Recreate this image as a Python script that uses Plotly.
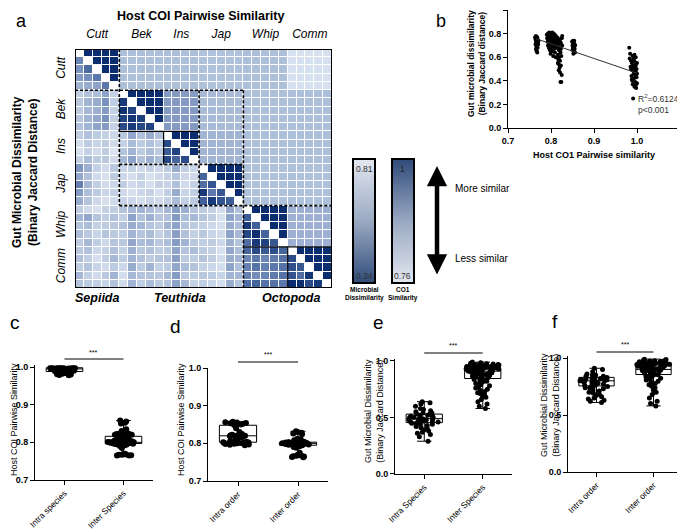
import plotly.graph_objects as go

# the page body keeps an 8px margin, so the figure is 8px smaller than the window
PAD = 8
W, H = 685 - PAD, 529 - PAD
FONT = "Liberation Sans, Arial, sans-serif"

# ---------------- panel a : pairwise heatmap ----------------
species = ["Cutt", "Bek", "Ins", "Jap", "Whip", "Comm"]
species_n = [5, 5, 4, 5, 5, 5]
orders = ["Sepiida", "Teuthida", "Octopoda"]

# host COI similarity between species (upper triangle)
coi_block = [
    [0.995, 0.800, 0.800, 0.797, 0.800, 0.766],
    [0.800, 0.995, 0.855, 0.806, 0.799, 0.800],
    [0.800, 0.855, 0.995, 0.815, 0.800, 0.800],
    [0.797, 0.806, 0.815, 0.995, 0.798, 0.798],
    [0.800, 0.799, 0.800, 0.798, 0.995, 0.822],
    [0.766, 0.800, 0.800, 0.798, 0.822, 0.995],
]

# gut microbial binary jaccard distance x100 (lower triangle, row by row)
jaccard_rows = [
    [],
    [55],
    [58, 49],
    [60, 57, 52],
    [66, 64, 62, 52],
    [73, 69, 68, 62, 74],
    [71, 66, 64, 58, 73, 38],
    [72, 67, 65, 60, 74, 36, 40],
    [70, 66, 63, 58, 73, 40, 37, 39],
    [69, 66, 62, 60, 74, 42, 38, 41, 40],
    [73, 69, 72, 74, 76, 71, 63, 69, 64, 69],
    [78, 72, 75, 72, 77, 74, 68, 72, 69, 73, 42],
    [79, 74, 77, 73, 80, 70, 66, 72, 68, 72, 46, 40],
    [74, 68, 72, 71, 77, 67, 62, 69, 65, 68, 41, 48, 42],
    [59, 65, 74, 77, 71, 75, 74, 77, 74, 76, 72, 64, 73, 75],
    [63, 69, 77, 79, 72, 76, 78, 74, 79, 77, 74, 70, 76, 76, 48],
    [54, 67, 73, 77, 76, 73, 77, 75, 78, 74, 75, 69, 77, 74, 50, 44],
    [60, 68, 72, 75, 74, 77, 79, 76, 74, 78, 73, 64, 75, 73, 38, 52, 45],
    [64, 70, 76, 78, 77, 75, 76, 78, 75, 77, 74, 68, 74, 72, 47, 38, 44, 46],
    [73, 77, 79, 74, 73, 70, 67, 66, 68, 71, 67, 61, 65, 70, 72, 74, 78, 63, 69],
    [66, 63, 70, 73, 69, 74, 62, 69, 65, 70, 69, 60, 68, 67, 70, 73, 79, 62, 66, 46],
    [70, 68, 74, 72, 71, 69, 64, 67, 70, 72, 66, 62, 70, 72, 74, 76, 78, 64, 68, 38, 47],
    [68, 71, 75, 70, 72, 73, 66, 70, 68, 74, 70, 61, 69, 74, 71, 75, 77, 62, 67, 41, 35, 48],
    [72, 67, 73, 76, 70, 71, 63, 68, 67, 71, 68, 60, 66, 71, 73, 72, 76, 65, 70, 50, 38, 40, 45],
    [71, 69, 76, 74, 69, 74, 65, 71, 69, 73, 71, 62, 70, 68, 72, 74, 79, 63, 68, 48, 42, 45, 43, 48],
    [69, 73, 78, 73, 67, 72, 66, 69, 72, 70, 69, 61, 72, 73, 70, 73, 77, 64, 66, 55, 52, 55, 53, 51, 42],
    [73, 70, 75, 77, 72, 76, 64, 72, 66, 74, 72, 63, 68, 70, 74, 76, 78, 62, 69, 54, 51, 54, 52, 51, 43, 45],
    [67, 74, 77, 71, 66, 78, 67, 70, 70, 71, 67, 60, 71, 72, 71, 72, 75, 66, 67, 54, 57, 55, 53, 51, 44, 50, 37],
    [70, 72, 74, 75, 70, 77, 66, 73, 68, 72, 70, 62, 67, 74, 73, 75, 78, 64, 70, 50, 48, 51, 51, 52, 35, 35, 42, 38],
]

micro_range = [0.34, 0.81]
coi_range = [0.76, 1.0]

# ---------------- panel b : scatter ----------------
cutt_pts = [(0.763, 0.77), (0.764, 0.75), (0.764, 0.71), (0.765, 0.78), (0.765, 0.73), (0.766, 0.76),
            (0.766, 0.69), (0.766, 0.66), (0.767, 0.74), (0.767, 0.72), (0.768, 0.77), (0.768, 0.70),
            (0.768, 0.64), (0.769, 0.75), (0.769, 0.68), (0.770, 0.73), (0.770, 0.71), (0.771, 0.74),
            (0.765, 0.67), (0.767, 0.65), (0.769, 0.72), (0.766, 0.76)]
mid_pts = [(0.790, 0.79), (0.791, 0.76), (0.792, 0.73), (0.793, 0.80), (0.793, 0.70), (0.794, 0.77),
           (0.795, 0.74), (0.795, 0.68), (0.796, 0.81), (0.796, 0.72), (0.797, 0.78), (0.797, 0.66),
           (0.798, 0.75), (0.798, 0.70), (0.799, 0.80), (0.799, 0.63), (0.800, 0.77), (0.800, 0.73),
           (0.800, 0.68), (0.801, 0.79), (0.801, 0.71), (0.802, 0.76), (0.802, 0.65), (0.803, 0.81),
           (0.803, 0.74), (0.804, 0.69), (0.804, 0.78), (0.805, 0.72), (0.805, 0.61), (0.806, 0.80),
           (0.806, 0.75), (0.807, 0.67), (0.807, 0.77), (0.808, 0.73), (0.808, 0.70), (0.809, 0.79),
           (0.809, 0.64), (0.810, 0.76), (0.810, 0.71), (0.811, 0.78), (0.811, 0.60), (0.812, 0.74),
           (0.812, 0.68), (0.795, 0.79), (0.799, 0.75), (0.803, 0.78), (0.806, 0.72), (0.801, 0.66),
           (0.797, 0.71), (0.804, 0.75)]
squid_pts = [(0.814, 0.77), (0.815, 0.73), (0.815, 0.69), (0.816, 0.62), (0.816, 0.76), (0.817, 0.58),
             (0.817, 0.71), (0.818, 0.66), (0.818, 0.54), (0.819, 0.74), (0.819, 0.60), (0.820, 0.51),
             (0.820, 0.68), (0.821, 0.57), (0.821, 0.47), (0.822, 0.64), (0.822, 0.39), (0.823, 0.53),
             (0.823, 0.72), (0.824, 0.39), (0.824, 0.61), (0.825, 0.76), (0.825, 0.45), (0.826, 0.70),
             (0.826, 0.78), (0.820, 0.75), (0.818, 0.49), (0.823, 0.67), (0.816, 0.55), (0.821, 0.73)]
bek_pts = [(0.849, 0.73), (0.850, 0.70), (0.850, 0.66), (0.851, 0.74), (0.851, 0.68), (0.852, 0.63),
           (0.852, 0.71), (0.853, 0.72), (0.853, 0.65), (0.854, 0.69), (0.854, 0.74), (0.855, 0.67),
           (0.855, 0.71), (0.856, 0.70), (0.856, 0.64)]
intra_pts = [(0.982, 0.68), (0.983, 0.59), (0.984, 0.63), (0.985, 0.52), (0.986, 0.57), (0.987, 0.44),
             (0.988, 0.55), (0.988, 0.41), (0.989, 0.49), (0.990, 0.61), (0.990, 0.37), (0.991, 0.53),
             (0.991, 0.25), (0.992, 0.46), (0.992, 0.58), (0.993, 0.42), (0.993, 0.51), (0.994, 0.62),
             (0.994, 0.35), (0.995, 0.48), (0.995, 0.56), (0.996, 0.44), (0.996, 0.39), (0.997, 0.53),
             (0.997, 0.60), (0.998, 0.47), (0.998, 0.34), (0.999, 0.50), (0.999, 0.43), (1.000, 0.55),
             (1.000, 0.38), (1.000, 0.46), (0.986, 0.50), (0.989, 0.40), (0.993, 0.57), (0.997, 0.36)]
reg_x = [0.765, 1.0]
reg_y = [0.757, 0.465]

# ---------------- panels c-f : box plots ----------------
c_cats = ["Intra species", "Inter Species"]
c_intra = [1.0, 1.0, 0.999, 0.999, 0.998, 0.998, 0.998, 0.997, 0.997, 0.997, 0.996, 0.996, 0.996,
           0.995, 0.995, 0.995, 0.994, 0.994, 0.993, 0.993, 0.992, 0.992, 0.991, 0.991, 0.990, 0.990,
           0.989, 0.988, 0.988, 0.987, 0.986, 0.985, 0.985, 0.984, 0.983, 0.982, 0.981, 0.980, 0.979,
           0.978, 0.999, 0.997, 0.994, 0.996, 0.998]
c_inter = [0.858, 0.855, 0.852, 0.850, 0.835, 0.830, 0.826, 0.825, 0.824, 0.823, 0.822, 0.821, 0.820,
           0.820, 0.819, 0.818, 0.817, 0.816, 0.815, 0.815, 0.810, 0.808, 0.806, 0.805, 0.805, 0.804,
           0.804, 0.803, 0.803, 0.802, 0.802, 0.802, 0.801, 0.801, 0.801, 0.800, 0.800, 0.800, 0.800,
           0.800, 0.800, 0.799, 0.799, 0.799, 0.798, 0.798, 0.798, 0.797, 0.797, 0.796, 0.796, 0.795,
           0.795, 0.794, 0.793, 0.792, 0.790, 0.785, 0.770, 0.769, 0.768, 0.767, 0.767, 0.766, 0.765, 0.765]
c_stats = dict(q1=[0.988, 0.797], median=[0.995, 0.800], q3=[0.998, 0.816],
               lowerfence=[0.978, 0.765], upperfence=[1.0, 0.858])

d_cats = ["Intra order", "Inter order"]
d_intra = [0.857, 0.856, 0.855, 0.855, 0.854, 0.853, 0.852, 0.851, 0.850, 0.849, 0.840, 0.830, 0.825,
           0.823, 0.822, 0.821, 0.821, 0.820, 0.820, 0.820, 0.819, 0.819, 0.818, 0.817, 0.816, 0.810,
           0.806, 0.805, 0.805, 0.804, 0.803, 0.803, 0.802, 0.802, 0.801, 0.801, 0.800, 0.800, 0.800,
           0.799, 0.799, 0.798, 0.797, 0.796, 0.795]
d_inter = [0.832, 0.830, 0.828, 0.826, 0.824, 0.812, 0.810, 0.808, 0.806, 0.805, 0.804, 0.803, 0.803,
           0.802, 0.802, 0.801, 0.801, 0.800, 0.800, 0.800, 0.800, 0.800, 0.799, 0.799, 0.799, 0.798,
           0.798, 0.797, 0.797, 0.796, 0.795, 0.794, 0.792, 0.790, 0.788, 0.775, 0.770, 0.768, 0.767,
           0.766, 0.765, 0.764, 0.763]
d_stats = dict(q1=[0.803, 0.795], median=[0.820, 0.800], q3=[0.848, 0.803],
               lowerfence=[0.795, 0.763], upperfence=[0.857, 0.832])

e_cats = ["Intra Species", "Inter Species"]
e_intra = [0.64, 0.63, 0.62, 0.60, 0.58, 0.57, 0.56, 0.55, 0.54, 0.54, 0.53, 0.53, 0.52, 0.52, 0.51,
           0.51, 0.50, 0.50, 0.50, 0.49, 0.49, 0.49, 0.48, 0.48, 0.48, 0.48, 0.47, 0.47, 0.47, 0.46,
           0.46, 0.46, 0.45, 0.45, 0.44, 0.44, 0.43, 0.42, 0.41, 0.40, 0.39, 0.38, 0.37, 0.36, 0.35,
           0.33, 0.29]
e_inter = [0.99, 0.985, 0.98, 0.979, 0.975, 0.973, 0.97, 0.968, 0.967, 0.964, 0.962, 0.961, 0.958,
           0.957, 0.955, 0.953, 0.952, 0.95, 0.948, 0.947, 0.945, 0.943, 0.942, 0.94, 0.938, 0.937,
           0.935, 0.934, 0.931, 0.93, 0.928, 0.927, 0.925, 0.922, 0.92, 0.919, 0.915, 0.913, 0.91,
           0.908, 0.906, 0.902, 0.9, 0.897, 0.895, 0.89, 0.887, 0.884, 0.88, 0.877, 0.872, 0.868, 0.864,
           0.86, 0.856, 0.85, 0.846, 0.84, 0.836, 0.83, 0.825, 0.82, 0.814, 0.81, 0.80, 0.79, 0.78,
           0.77, 0.76, 0.75, 0.74, 0.73, 0.72, 0.71, 0.70, 0.69, 0.68, 0.66, 0.64, 0.62, 0.60, 0.58]
e_stats = dict(q1=[0.455, 0.845], median=[0.490, 0.910], q3=[0.530, 0.930],
               lowerfence=[0.29, 0.58], upperfence=[0.64, 0.99])

f_cats = ["Intra order", "Inter order"]
f_intra = [0.91, 0.90, 0.88, 0.86, 0.85, 0.85, 0.84, 0.84, 0.83, 0.83, 0.83, 0.82, 0.82, 0.82, 0.81,
           0.81, 0.81, 0.80, 0.80, 0.80, 0.80, 0.79, 0.79, 0.79, 0.78, 0.78, 0.77, 0.77, 0.76, 0.76,
           0.75, 0.75, 0.74, 0.74, 0.73, 0.72, 0.71, 0.70, 0.69, 0.68, 0.67, 0.66, 0.65, 0.64, 0.63,
           0.62, 0.61]
f_inter = [0.99, 0.986, 0.982, 0.979, 0.976, 0.973, 0.971, 0.969, 0.967, 0.965, 0.963, 0.961, 0.959,
           0.957, 0.955, 0.954, 0.952, 0.95, 0.949, 0.947, 0.945, 0.944, 0.942, 0.94, 0.939, 0.937,
           0.935, 0.933, 0.931, 0.93, 0.928, 0.926, 0.924, 0.922, 0.92, 0.917, 0.914, 0.911, 0.908,
           0.905, 0.902, 0.899, 0.896, 0.893, 0.89, 0.886, 0.882, 0.878, 0.874, 0.87, 0.866, 0.862,
           0.858, 0.853, 0.848, 0.842, 0.836, 0.83, 0.823, 0.815, 0.806, 0.797, 0.787, 0.776, 0.765,
           0.752, 0.74, 0.72, 0.70, 0.68, 0.65, 0.62, 0.60, 0.58]
f_stats = dict(q1=[0.755, 0.855], median=[0.800, 0.900], q3=[0.830, 0.930],
               lowerfence=[0.61, 0.58], upperfence=[0.91, 0.99])


def X(p):
    return (p - PAD) / W


def Y(p):
    return 1 - (p - PAD) / H


def note(x, y, text, size, **kw):
    font = dict(size=size, family=FONT, color=kw.pop("color", "black"))
    kw.setdefault("xanchor", "center")
    kw.setdefault("yanchor", "middle")
    return dict(x=X(x), y=Y(y), xref="paper", yref="paper", text=text, showarrow=False,
                font=font, **kw)


fig = go.Figure()

# ---- heatmap matrices ----
sp_idx = [i for i, n in enumerate(species_n) for _ in range(n)]
N = len(sp_idx)
z_upper = [[coi_block[sp_idx[r]][sp_idx[c]] if c > r else None for c in range(N)] for r in range(N)]
z_lower = [[jaccard_rows[r][c] / 100 if c < r else None for c in range(N)] for r in range(N)]

micro_scale = [[0, "#dfe7f2"], [0.25, "#b2c2dc"], [0.5, "#7890bd"], [0.75, "#3a5b96"], [1, "#08296b"]]
coi_scale = [[0, "#dfe7f2"], [0.12, "#b6c6de"], [0.4, "#8399c3"], [0.7, "#3a5b96"], [1, "#08296b"]]
bar_scale = [[0, "#e2e6ef"], [0.5, "#9aa9c2"], [1, "#324d7b"]]

fig.add_trace(go.Heatmap(z=z_lower, zmin=micro_range[0], zmax=micro_range[1], colorscale=micro_scale,
                         reversescale=True, xgap=1, ygap=1, hoverinfo="skip", showscale=False))
fig.add_trace(go.Heatmap(z=z_upper, zmin=coi_range[0], zmax=coi_range[1], colorscale=coi_scale,
                         xgap=1, ygap=1, hoverinfo="skip", showscale=False))

# legend bars: smooth gradient between the two end values
fig.add_trace(go.Heatmap(z=[[micro_range[0]] * 2, [micro_range[1]] * 2], y=[0, 1], x=[0, 1],
                         zmin=micro_range[0], zmax=micro_range[1], colorscale=bar_scale,
                         reversescale=True, zsmooth="best", showscale=False, hoverinfo="skip",
                         xaxis="x7", yaxis="y7"))
fig.add_trace(go.Heatmap(z=[[coi_range[0]] * 2, [coi_range[1]] * 2], y=[0, 1], x=[0, 1],
                         zmin=coi_range[0], zmax=coi_range[1], colorscale=bar_scale,
                         zsmooth="best", showscale=False, hoverinfo="skip",
                         xaxis="x8", yaxis="y8"))

starts = [0]
for n in species_n:
    starts.append(starts[-1] + n)
centers = [s + (n - 1) / 2 for s, n in zip(starts, species_n)]

shapes = []


def hline(row, c0, c1, dash="3px,2px", width=1.6):
    shapes.append(dict(type="line", xref="x", yref="y", x0=c0 - 0.5, x1=c1 - 0.5,
                       y0=row - 0.5, y1=row - 0.5, line=dict(color="black", width=width, dash=dash)))


def vline(col, r0, r1, dash="3px,2px", width=1.6):
    shapes.append(dict(type="line", xref="x", yref="y", x0=col - 0.5, x1=col - 0.5,
                       y0=r0 - 0.5, y1=r1 - 0.5, line=dict(color="black", width=width, dash=dash)))


# order / species group outlines
hline(5, 0, 19)
vline(5, 0, 19)
vline(19, 5, 29)
hline(19, 5, 29)
hline(14, 5, 19)
vline(14, 5, 19)
hline(10, 5, 14, "solid", 1.2)
vline(10, 10, 14, "solid", 1.2)
hline(24, 19, 29, "solid", 1.2)
vline(24, 24, 29, "solid", 1.2)
shapes.append(dict(type="rect", xref="x", yref="y", x0=-0.5, x1=N - 0.5, y0=-0.5, y1=N - 0.5,
                   line=dict(color="black", width=2)))

# ---- panel b ----
b_pts = cutt_pts + mid_pts + squid_pts + bek_pts + intra_pts
fig.add_trace(go.Scatter(x=[p[0] for p in b_pts], y=[p[1] for p in b_pts], mode="markers",
                         marker=dict(color="black", size=4), xaxis="x2", yaxis="y2",
                         hoverinfo="skip", cliponaxis=False))
fig.add_trace(go.Scatter(x=reg_x, y=reg_y, mode="lines", line=dict(color="#333333", width=1),
                         xaxis="x2", yaxis="y2", hoverinfo="skip"))


# ---- panels c-f ----
def box_panel(n, cats, intra, inter, stats, msize):
    ax = dict(xaxis=f"x{n}", yaxis=f"y{n}", showlegend=False, hoverinfo="skip")
    fig.add_trace(go.Box(x=cats, fillcolor="white", line=dict(color="black", width=1),
                         whiskerwidth=0.4, width=0.62, boxpoints=False, **stats, **ax))
    for cat, vals in zip(cats, [intra, inter]):
        fig.add_trace(go.Box(x=[cat] * len(vals), y=vals, boxpoints="all", jitter=1, pointpos=0,
                             fillcolor="rgba(0,0,0,0)", line=dict(color="rgba(0,0,0,0)", width=0),
                             marker=dict(color="black", size=msize), width=0.62, **ax))


box_panel(3, c_cats, c_intra, c_inter, c_stats, 6)
box_panel(4, d_cats, d_intra, d_inter, d_stats, 6)
box_panel(5, e_cats, e_intra, e_inter, e_stats, 5)
box_panel(6, f_cats, f_intra, f_inter, f_stats, 5)

tick_bold = dict(size=9, family=FONT, color="black", weight="bold")
line_ax = dict(showline=True, linecolor="black", linewidth=1, showgrid=False, zeroline=False,
               ticks="outside", ticklen=4, tickcolor="black", tickwidth=1, automargin=False)
bare_ax = dict(showgrid=False, zeroline=False, showticklabels=False, ticks="", automargin=False,
               showline=True, mirror=True, linecolor="black", linewidth=1.5)

layout_axes = dict(
    xaxis=dict(domain=[X(75), X(332)], anchor="y", range=[-0.5, N - 0.5], side="top",
               tickvals=centers, ticktext=[f"<i>{s}</i>" for s in species], ticks="",
               showgrid=False, zeroline=False, ticklabelstandoff=8, automargin=False,
               tickfont=dict(size=12, family=FONT, color="black")),
    yaxis=dict(domain=[Y(288), Y(49)], anchor="x", range=[N - 0.5, -0.5],
               tickvals=centers, ticktext=[f"<i>{s}</i>" for s in species], ticks="",
               tickangle=-90, showgrid=False, zeroline=False, ticklabelstandoff=7, automargin=False,
               tickfont=dict(size=12, family=FONT, color="black")),
    xaxis2=dict(domain=[X(508), X(680)], anchor="y2", range=[0.7, 1.1],
                tickvals=[0.7, 0.8, 0.9, 1.0, 1.1], tickformat=".1f", tickfont=tick_bold,
                **line_ax),
    yaxis2=dict(domain=[Y(128), Y(10)], anchor="x2", range=[0, 1.0], dtick=0.2,
                tickformat=".1f", tickfont=tick_bold, **line_ax),
    xaxis7=dict(domain=[X(354), X(374)], anchor="y7", range=[0, 1], **bare_ax),
    yaxis7=dict(domain=[Y(282), Y(160)], anchor="x7", range=[0, 1], **bare_ax),
    xaxis8=dict(domain=[X(393), X(413)], anchor="y8", range=[0, 1], **bare_ax),
    yaxis8=dict(domain=[Y(282), Y(160)], anchor="x8", range=[0, 1], **bare_ax),
)

box_geom = {
    3: (35, 153, 367, 480, c_cats, [0.7, 1.004], 0.1),
    4: (208, 328, 368, 481, d_cats, [0.7, 1.0], 0.1),
    5: (395, 512, 361, 474, e_cats, [0, 1.015], 0.5),
    6: (568, 682, 358, 472, f_cats, [0, 1.015], 0.5),
}
for n, (x0, x1, ytop, ybot, cats, yr, dt) in box_geom.items():
    top_px = ytop - (yr[1] - 1.0) / (1.0 - yr[0]) * (ybot - ytop)
    layout_axes[f"xaxis{n}"] = dict(domain=[X(x0), X(x1)], anchor=f"y{n}", type="category",
                                    categoryorder="array", categoryarray=cats, range=[-0.5, 1.5],
                                    tickangle=-45, ticklabelstandoff=0,
                                    tickfont=dict(size=8.5, family=FONT, color="black"),
                                    **line_ax)
    layout_axes[f"yaxis{n}"] = dict(domain=[Y(ybot), Y(top_px)], anchor=f"x{n}", range=yr,
                                    tickvals=[v / 10 for v in range(int(round(yr[0] * 10)), 11, int(round(dt * 10)))],
                                    tickformat=".1f", tickfont=tick_bold, **line_ax)

# significance bars
for n, ypx in [(3, 359), (4, 362), (5, 353), (6, 352)]:
    shapes.append(dict(type="line", xref=f"x{n}", yref="paper", x0=0, x1=1, y0=Y(ypx), y1=Y(ypx),
                       line=dict(color="black", width=1)))

annotations = [
    note(21, 21, "a", 18),
    note(441, 21, "b", 18),
    note(15, 322, "c", 19),
    note(175, 326, "d", 19),
    note(378, 322, "e", 19),
    note(555, 321, "f", 19),
    note(200, 16, "<b>Host COI Pairwise Similarity</b>", 12.5),
    note(25, 172, "<b>Gut Microbial Dissimilarity<br>(Binary Jaccard Distance)</b>", 12, textangle=-90),
    note(97, 298, "<b><i>Sepiida</i></b>", 12.5),
    note(180, 298, "<b><i>Teuthida</i></b>", 12.5),
    note(291, 298, "<b><i>Octopoda</i></b>", 12.5),
    note(364, 169, f"{micro_range[1]:.2f}", 8.5, color="#333333"),
    note(364, 276, f"{micro_range[0]:.2f}", 8.5, color="#333333"),
    note(403, 169, f"{coi_range[1]:g}", 8.5, color="#222222"),
    note(403, 276, f"{coi_range[0]:.2f}", 8.5, color="#333333"),
    note(364, 294, "<b>Microbial<br>Dissimilarity</b>", 6.5),
    note(403, 294, "<b>CO1<br>Similarity</b>", 6.5),
    note(453, 188, "More similar", 10, xanchor="left"),
    note(453, 258, "Less similar", 10, xanchor="left"),
    dict(x=X(437), y=Y(166), xref="paper", yref="paper", ax=0, ay=110, text="", showarrow=True,
         arrowside="end+start", arrowhead=2, startarrowhead=2, arrowwidth=4.5, arrowsize=0.9,
         startarrowsize=0.9, arrowcolor="black"),
    # panel b
    note(477, 64, "<b>Gut microbial dissimilarity<br>(Binary Jaccard distance)</b>", 8.5, textangle=-90),
    note(594, 155, "<b>Host CO1 Pairwise similarity</b>", 9),
    note(636, 104, "R<sup>2</sup>=0.6124<br>p&lt;0.001", 8.5, xanchor="left", align="left",
         color="#333333"),
    # panels c-f
    note(14, 420, "Host COI Pairwise Similarity", 9, textangle=-90),
    note(181, 420, "Host COI Pairwise Similarity", 9, textangle=-90),
    note(374, 411, "Gut Microbial Dissimilarity<br>(Binary Jaccard Distance)", 9, textangle=-90),
    note(550, 405, "Gut Microbial Dissimilarity<br>(Binary Jaccard Distance)", 9, textangle=-90),
    note(93, 352, "***", 7),
    note(268, 355, "***", 7),
    note(453, 345, "***", 7),
    note(625, 344, "***", 7),
]

fig.update_layout(
    template="none",
    width=W, height=H, autosize=False,
    margin=dict(l=0, r=0, t=0, b=0, pad=0),
    paper_bgcolor="white", plot_bgcolor="white",
    font=dict(family=FONT, color="black"),
    showlegend=False, boxmode="overlay",
    shapes=shapes, annotations=annotations,
    **layout_axes,
)

fig.write_html("out.html")
